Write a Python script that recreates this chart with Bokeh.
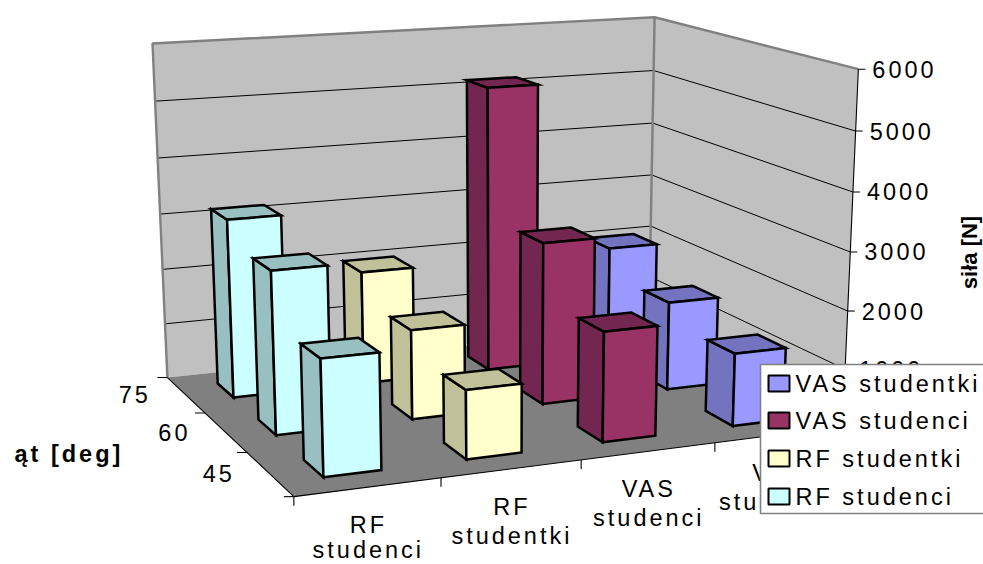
import numpy as np
from bokeh.core.properties import value
from bokeh.embed import file_html
from bokeh.events import DocumentReady
from bokeh.io import curdoc
from bokeh.models import ColumnDataSource, CustomJS, Range1d
from bokeh.plotting import figure
from bokeh.resources import INLINE

# Force in newtons, one list per muscle group, ordered by joint angle 45, 60, 75
angles = ["45", "60", "75"]
categories = [["RF", "studenci"], ["RF", "studentki"], ["VAS", "studenci"], ["VAS", "studentki"]]
rf_studenci = [1930, 2800, 3170]
rf_studentki = [1160, 1560, 2030]
vas_studenci = [1880, 2850, 5150]
vas_studentki = [1260, 1580, 2050]
value_ticks = [0, 1000, 2000, 3000, 4000, 5000, 6000]

series = [rf_studenci, rf_studentki, vas_studenci, vas_studentki]
legend_names = ["VAS studentki", "VAS studenci", "RF studentki", "RF studenci"]
front_colors = ["#CCFFFF", "#FFFFCC", "#993366", "#9999FF"]
shade_colors = ["#99C0C0", "#C0C099", "#732650", "#7373BF"]
legend_colors = ["#9999FF", "#993366", "#FFFFCC", "#CCFFFF"]

FONT = "Liberation Sans"
TEXT_SIZE = "23.5px"
TRACKING = 3.0

# Camera: a projective map from (category, depth, force) to the page,
# calibrated on the corners and ticks of the chart box.
box_points = [
    (0, 0, 0, 293, 497), (1, 0, 0, 441.5, 478), (2, 0, 0, 581.6, 460), (3, 0, 0, 714, 442),
    (4, 0, 0, 841, 425), (0, 1, 0, 247, 452), (0, 2, 0, 203, 412), (0, 3, 0, 167, 375),
    (4, 3, 0, 649, 328), (0, 3, 6000, 152, 44), (4, 3, 6000, 654, 16), (4, 0, 6000, 858, 69),
    (0, 3, 3000, 160, 214), (4, 3, 3000, 651, 174), (4, 0, 3000, 850, 251),
    (0, 0, 6000, 282, 105),
]


def fit_camera(points):
    rows, rhs = [], []
    for c, d, f, px, py in points:
        w = [c, d, f / 1000, 1]
        rows.append(w + [0, 0, 0, 0] + [-px * w[0], -px * w[1], -px * w[2]])
        rows.append([0, 0, 0, 0] + w + [-py * w[0], -py * w[1], -py * w[2]])
        rhs += [px, py]
    sol = np.linalg.lstsq(np.array(rows, float), np.array(rhs, float), rcond=None)[0]
    return np.append(sol, 1.0).reshape(3, 4)


CAM = fit_camera(box_points)


def project(c, d, f):
    h = CAM @ np.array([c, d, f / 1000, 1.0])
    return float(h[0] / h[2]), float(h[1] / h[2])


def face(*corners):
    pts = [project(*q) for q in corners]
    return [q[0] for q in pts], [q[1] for q in pts]


p = figure(width=983, height=564, output_backend="svg", toolbar_location=None,
           x_range=Range1d(0, 983), y_range=Range1d(564, 0),
           x_axis_type=None, y_axis_type=None, min_border=0, outline_line_color=None,
           background_fill_color="white", border_fill_color="white")
p.grid.visible = False

TOP = value_ticks[-1]
N_CAT, N_DEPTH = len(categories), len(angles)

# Walls and floor
walls = [
    face((0, 3, 0), (N_CAT, 3, 0), (N_CAT, 3, TOP), (0, 3, TOP)),
    face((N_CAT, 3, 0), (N_CAT, 0, 0), (N_CAT, 0, TOP), (N_CAT, 3, TOP)),
]
floor = face((0, 0, 0), (N_CAT, 0, 0), (N_CAT, 3, 0), (0, 3, 0))
p.patches([w[0] for w in walls], [w[1] for w in walls], fill_color="#C0C0C0", line_color=None)
p.patch(floor[0], floor[1], fill_color="#808080", line_color=None)

# Gridlines across both walls
grid_x, grid_y = [], []
for v in value_ticks[1:-1]:
    gx, gy = face((0, 3, v), (N_CAT, 3, v), (N_CAT, 0, v))
    grid_x.append(gx)
    grid_y.append(gy)
p.multi_line(grid_x, grid_y, line_color="#000000", line_width=1)

# Wall borders
edge_paths = [
    face((0, 3, 0), (0, 3, TOP), (N_CAT, 3, TOP), (N_CAT, 0, TOP)),
    face((N_CAT, 3, 0), (N_CAT, 3, TOP)),
]
p.multi_line([e[0] for e in edge_paths], [e[1] for e in edge_paths], line_color="#808080", line_width=2.4)

# Axis lines and tick marks
axis_paths = [
    face((N_CAT, 0, 0), (N_CAT, 0, TOP)),
    face((0, 3, 0), (0, 0, 0), (N_CAT, 0, 0)),
]
for v in value_ticks:
    tx, ty = project(N_CAT, 0, v)
    axis_paths.append(([tx, tx + 7], [ty, ty]))
for d in range(N_DEPTH + 1):
    tx, ty = project(0, d, 0)
    axis_paths.append(([tx - 10, tx], [ty, ty]))
for c in range(N_CAT + 1):
    tx, ty = project(c, 0, 0)
    axis_paths.append(([tx, tx], [ty, ty + 9]))
p.multi_line([a[0] for a in axis_paths], [a[1] for a in axis_paths], line_color="#000000", line_width=1.1)

# Bars, painted from the back row forward and from right to left within a row
BAR_LO, BAR_HI = 0.3, 0.7
bar_xs, bar_ys, bar_fill = [], [], []
for d in reversed(range(N_DEPTH)):
    for c in reversed(range(N_CAT)):
        f = series[c][d]
        x0, x1, z0, z1 = c + BAR_LO, c + BAR_HI, d + BAR_LO, d + BAR_HI
        faces = [
            (face((x0, z1, 0), (x0, z0, 0), (x0, z0, f), (x0, z1, f)), shade_colors[c]),
            (face((x0, z0, f), (x1, z0, f), (x1, z1, f), (x0, z1, f)), shade_colors[c]),
            (face((x0, z0, 0), (x1, z0, 0), (x1, z0, f), (x0, z0, f)), front_colors[c]),
        ]
        for (fx, fy), col in faces:
            bar_xs.append(fx)
            bar_ys.append(fy)
            bar_fill.append(col)
p.patches("xs", "ys", fill_color="fill", line_color="#000000", line_width=2.5, line_join="miter",
          source=ColumnDataSource(dict(xs=bar_xs, ys=bar_ys, fill=bar_fill)))


def labels(xs, ys, texts, align="left", bold=False, angle=0.0, size=TEXT_SIZE):
    p.text(xs, ys, text=texts, text_font=value(FONT), text_font_size=size, text_color="#000000",
           text_align=align, text_baseline="middle", angle=angle,
           text_font_style="bold" if bold else "normal")


def centred(x, text):
    # The anchor is placed from the untracked width, so pull it back by half the extra width
    return x - len(text) * TRACKING / 2


# Force tick labels
vx, vy, vt = [], [], []
for v in value_ticks[1:]:
    tx, ty = project(N_CAT, 0, v)
    vx.append(tx + 14)
    vy.append(ty)
    vt.append(str(v))
labels(vx, vy, vt)

# Angle tick labels, centred beside the depth axis
ax, ay = [], []
for d in range(N_DEPTH):
    tx, ty = project(0, d + 0.5, 0)
    ax.append(centred(tx - 51, angles[d]))
    ay.append(ty)
labels(ax, ay, angles, align="center")

# Category labels on two lines under the front edge, kept inside the page
cx, cy, ct = [], [], []
for c, lines in enumerate(categories):
    tx, ty = project(c + 0.5, 0, 0)
    for k, line in enumerate(lines):
        cx.append(centred(tx, line))
        cy.append(min(ty + 38 + k * 29, 549))
        ct.append(line)
labels(cx, cy, ct, align="center")

# Axis titles
labels([14], [453], ["ąt [deg]"], bold=True)
labels([969], [252], ["siła [N]"], align="center", bold=True, angle=np.pi / 2, size="22px")

# Legend panel
LEG_LEFT, LEG_RIGHT, LEG_TOP, LEG_BOTTOM = 760, 990, 364, 513
p.quad(left=[LEG_LEFT], right=[LEG_RIGHT], top=[LEG_TOP], bottom=[LEG_BOTTOM],
       fill_color="#FFFFFF", line_color="#808080", line_width=1.6)
row_y = [383, 420, 458, 496]
p.quad(left=[768] * 4, right=[789] * 4, top=[y - 8 for y in row_y], bottom=[y + 8 for y in row_y],
       fill_color=legend_colors, line_color="#000000", line_width=2)
labels([795] * 4, row_y, legend_names)

# Open up the letter spacing of the labels once the SVG is in the page;
# the vertical force title stays at normal spacing
curdoc().add_root(p)
curdoc().js_on_event(DocumentReady, CustomJS(args=dict(tracking=f"{TRACKING}px"), code="""
    function walk(root) {
        root.querySelectorAll('*').forEach(function (el) {
            if (el.shadowRoot) walk(el.shadowRoot);
            if (el.tagName.toLowerCase() === 'text' && el.textContent.indexOf('siła') < 0) {
                el.setAttribute('letter-spacing', tracking);
            }
        });
    }
    [0, 50, 200, 500].forEach(function (t) { setTimeout(function () { walk(document); }, t); });
"""))

open("out.html", "w").write(file_html(p, INLINE))
